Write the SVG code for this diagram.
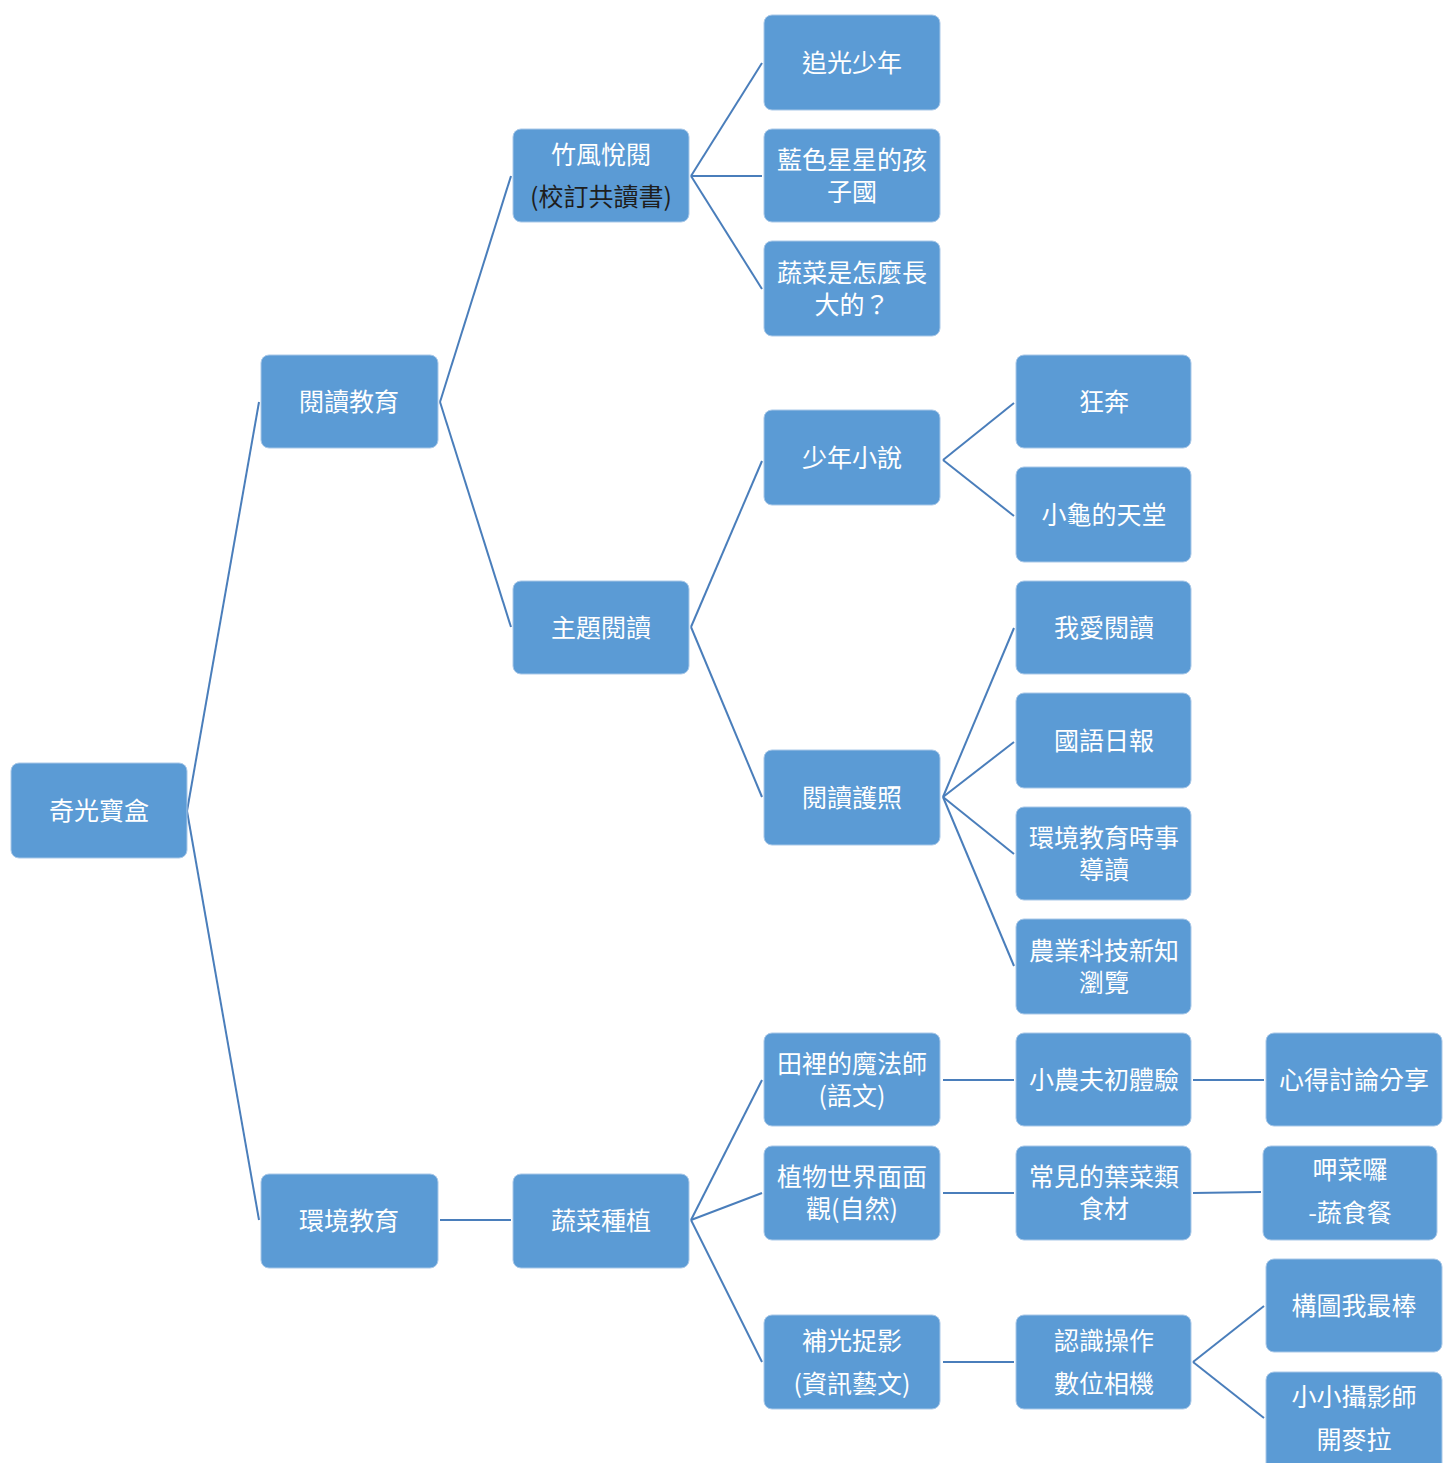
<svg xmlns="http://www.w3.org/2000/svg" width="1444" height="1463" viewBox="0 0 1444 1463">
<style>
.n rect{fill:#5b9bd5;stroke:#a9c8e8;stroke-width:1}
.n text{font-family:"Noto Sans CJK TC","Noto Sans CJK SC",sans-serif;font-size:25px;fill:#ffffff;text-anchor:middle;dominant-baseline:central;transform:translateY(-2px)}
.n text.dk{fill:#1e1e1e}
.c line{stroke:#4a7ebb;stroke-width:2}
</style>
<rect width="1444" height="1463" fill="#ffffff"/>
<g class="c">
<line x1="187" y1="811" x2="259" y2="402"/>
<line x1="187" y1="811" x2="259" y2="1220"/>
<line x1="440" y1="402" x2="511" y2="176"/>
<line x1="440" y1="402" x2="511" y2="627"/>
<line x1="691" y1="176" x2="762" y2="63"/>
<line x1="691" y1="176" x2="762" y2="176"/>
<line x1="691" y1="176" x2="762" y2="289"/>
<line x1="691" y1="627" x2="762" y2="461"/>
<line x1="691" y1="627" x2="762" y2="797"/>
<line x1="943" y1="460" x2="1014" y2="403"/>
<line x1="943" y1="460" x2="1014" y2="516"/>
<line x1="943" y1="797" x2="1014" y2="628"/>
<line x1="943" y1="797" x2="1014" y2="742"/>
<line x1="943" y1="797" x2="1014" y2="854"/>
<line x1="943" y1="797" x2="1014" y2="966"/>
<line x1="440" y1="1220" x2="511" y2="1220"/>
<line x1="691" y1="1220" x2="762" y2="1080"/>
<line x1="691" y1="1220" x2="762" y2="1193"/>
<line x1="691" y1="1220" x2="762" y2="1362"/>
<line x1="943" y1="1080" x2="1014" y2="1080"/>
<line x1="1193" y1="1080" x2="1264" y2="1080"/>
<line x1="943" y1="1193" x2="1014" y2="1193"/>
<line x1="1193" y1="1193" x2="1261" y2="1192"/>
<line x1="943" y1="1362" x2="1014" y2="1362"/>
<line x1="1193" y1="1362" x2="1264" y2="1306"/>
<line x1="1193" y1="1362" x2="1264" y2="1418"/>
</g>
<g id="n-root" class="n"><rect x="11" y="763" width="176" height="95" rx="8"/><text x="99" y="811">奇光寶盒</text></g>
<g id="n-read" class="n"><rect x="261" y="355" width="177" height="93" rx="8"/><text x="349" y="402">閱讀教育</text></g>
<g id="n-env" class="n"><rect x="261" y="1174" width="177" height="94" rx="8"/><text x="349" y="1221">環境教育</text></g>
<g id="n-zhu" class="n"><rect x="513" y="129" width="176" height="93" rx="8"/><text x="601" y="155">竹風悅閱</text><text class="dk" x="601" y="197">(校訂共讀書)</text></g>
<g id="n-theme" class="n"><rect x="513" y="581" width="176" height="93" rx="8"/><text x="601" y="628">主題閱讀</text></g>
<g id="n-veg" class="n"><rect x="513" y="1174" width="176" height="94" rx="8"/><text x="601" y="1221">蔬菜種植</text></g>
<g id="n-a1" class="n"><rect x="764" y="15" width="176" height="95" rx="8"/><text x="852" y="63">追光少年</text></g>
<g id="n-a2" class="n"><rect x="764" y="129" width="176" height="93" rx="8"/><text x="852" y="160">藍色星星的孩</text><text x="852" y="192">子國</text></g>
<g id="n-a3" class="n"><rect x="764" y="241" width="176" height="95" rx="8"/><text x="852" y="273">蔬菜是怎麼長</text><text x="852" y="305">大的？</text></g>
<g id="n-b1" class="n"><rect x="764" y="410" width="176" height="95" rx="8"/><text x="852" y="458">少年小說</text></g>
<g id="n-b2" class="n"><rect x="764" y="750" width="176" height="95" rx="8"/><text x="852" y="798">閱讀護照</text></g>
<g id="n-c1" class="n"><rect x="764" y="1033" width="176" height="93" rx="8"/><text x="852" y="1064">田裡的魔法師</text><text x="852" y="1096">(語文)</text></g>
<g id="n-c2" class="n"><rect x="764" y="1146" width="176" height="94" rx="8"/><text x="852" y="1177">植物世界面面</text><text x="852" y="1209">觀(自然)</text></g>
<g id="n-c3" class="n"><rect x="764" y="1315" width="176" height="94" rx="8"/><text x="852" y="1341">補光捉影</text><text x="852" y="1384">(資訊藝文)</text></g>
<g id="n-d1" class="n"><rect x="1016" y="355" width="175" height="93" rx="8"/><text x="1104" y="402">狂奔</text></g>
<g id="n-d2" class="n"><rect x="1016" y="467" width="175" height="95" rx="8"/><text x="1104" y="515">小龜的天堂</text></g>
<g id="n-d3" class="n"><rect x="1016" y="581" width="175" height="93" rx="8"/><text x="1104" y="628">我愛閱讀</text></g>
<g id="n-d4" class="n"><rect x="1016" y="693" width="175" height="95" rx="8"/><text x="1104" y="741">國語日報</text></g>
<g id="n-d5" class="n"><rect x="1016" y="807" width="175" height="93" rx="8"/><text x="1104" y="838">環境教育時事</text><text x="1104" y="870">導讀</text></g>
<g id="n-d6" class="n"><rect x="1016" y="919" width="175" height="95" rx="8"/><text x="1104" y="951">農業科技新知</text><text x="1104" y="983">瀏覽</text></g>
<g id="n-e1" class="n"><rect x="1016" y="1033" width="175" height="93" rx="8"/><text x="1104" y="1080">小農夫初體驗</text></g>
<g id="n-e2" class="n"><rect x="1016" y="1146" width="175" height="94" rx="8"/><text x="1104" y="1177">常見的葉菜類</text><text x="1104" y="1209">食材</text></g>
<g id="n-e3" class="n"><rect x="1016" y="1315" width="175" height="94" rx="8"/><text x="1104" y="1341">認識操作</text><text x="1104" y="1384">數位相機</text></g>
<g id="n-f1" class="n"><rect x="1266" y="1033" width="176" height="93" rx="8"/><text x="1354" y="1080">心得討論分享</text></g>
<g id="n-f2" class="n"><rect x="1263" y="1146" width="174" height="94" rx="8"/><text x="1350" y="1170">呷菜囉</text><text x="1350" y="1213">-蔬食餐</text></g>
<g id="n-f3" class="n"><rect x="1266" y="1259" width="176" height="93" rx="8"/><text x="1354" y="1306">構圖我最棒</text></g>
<g id="n-f4" class="n"><rect x="1266" y="1372" width="176" height="100" rx="8"/><text x="1354" y="1397">小小攝影師</text><text x="1354" y="1440">開麥拉</text></g>
</svg>
